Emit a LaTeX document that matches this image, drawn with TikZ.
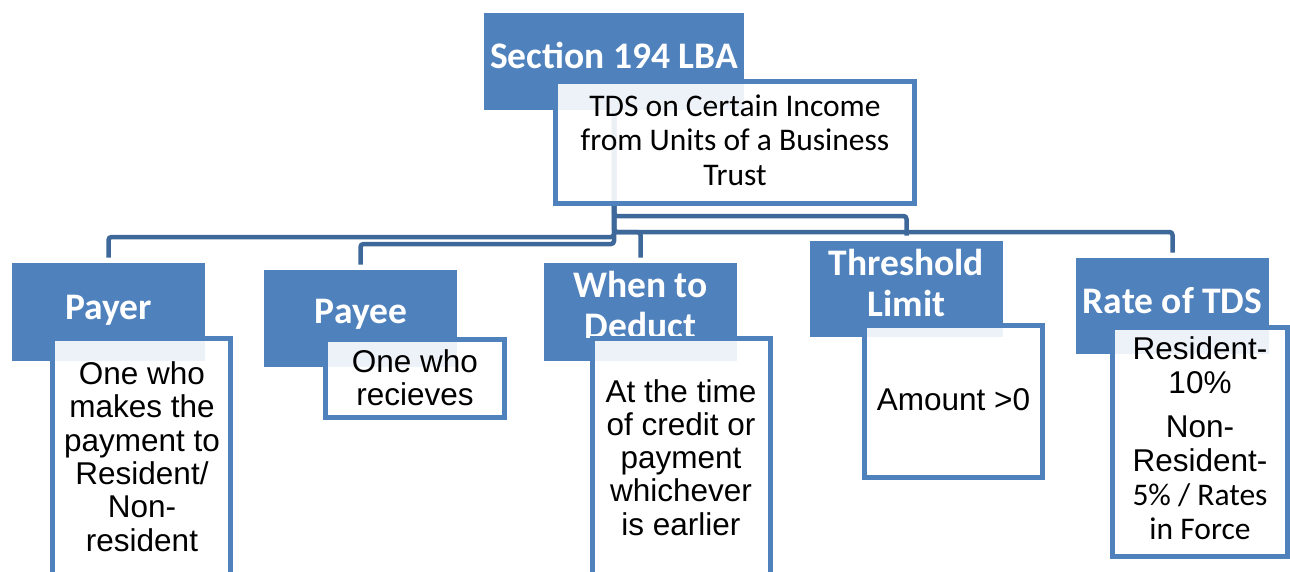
\documentclass[tikz,border=0pt]{standalone}
\usepackage{fontspec}
\setmainfont{Liberation Sans}
\newfontfamily\calib{Carlito}

\definecolor{accent}{RGB}{79,129,189}
\definecolor{linkblue}{RGB}{61,104,153}

\tikzset{
  headbox/.style={fill=accent, draw=none, inner sep=0pt, outer sep=0pt,
    minimum width=193pt, minimum height=97pt},
  notebox/.style={draw=accent, line width=5pt, fill=white, fill opacity=0.9,
    inner sep=0pt, outer sep=0pt},
  headtext/.style={anchor=north, inner sep=0pt, text=white, align=center,
    font=\calib\bfseries\fontsize{37.5}{41}\selectfont, execute at begin node=\strut},
  bodytext/.style={anchor=north, inner sep=0pt, text=black, align=center,
    font=\fontsize{31.5}{33.3}\selectfont, execute at begin node=\strut},
  conn/.style={draw=linkblue, line width=4.5pt, rounded corners=3pt, shorten >=5.5pt},
}

\begin{document}
\begin{tikzpicture}[x=1pt,y=-1pt]
\useasboundingbox (0,0) rectangle (1290,571);
\clip (0,0) rectangle (1290,571);

% heading boxes
\node[headbox, minimum width=260pt] (sec) at (614,61.5) {};
\node[headbox, minimum height=98pt] (payer) at (108.5,312) {};
\node[headbox] (payee) at (360.5,318.5) {};
\node[headbox, minimum height=98pt] (when) at (640.5,312) {};
\node[headbox, minimum height=96pt] (thr) at (906.5,289) {};
\node[headbox, minimum height=96pt] (rate) at (1172.5,306) {};

\node[headtext] (secT) at (614,39.5) {Section 194 LBA};
\node[headtext] (payerT) at (108.5,291) {Payer};
\node[headtext] (payeeT) at (361,294.5) {Payee};
\node[headtext] (whenT) at (640.5,270.5) {When to\\Deduct};
\node[headtext] (thrT) at (906.5,248.5) {Threshold\\Limit};
\node[headtext] (rateT) at (1172.5,284.5) {Rate of TDS};

% horizontal bus levels of the tree
\coordinate (busPayer) at (0,237);
\coordinate (busPayee) at (0,244);
\coordinate (busWhen) at (0,232);
\coordinate (busThr) at (0,216);
\coordinate (busRate) at (0,232);

\draw[conn] (sec.south) -- (sec.south |- busThr) -| (thr.north);
\draw[conn] (sec.south) -- (sec.south |- busRate) -| (rate.north);
\draw[conn] (sec.south) -- (sec.south |- busWhen) -| (when.north);
\draw[conn] (sec.south) -- (sec.south |- busPayer) -| (payer.north);
\draw[conn] (sec.south) -- (sec.south |- busPayee) -| (payee.north);

% description boxes
\node[notebox, minimum width=359pt, minimum height=122pt] (tds) at (735,142.5) {};
\node[notebox, minimum width=178pt, minimum height=259pt] (payerW) at (141.5,468) {};
\node[notebox, minimum width=179pt, minimum height=78pt] (payeeW) at (415,378.5) {};
\node[notebox, minimum width=178pt, minimum height=259pt] (whenW) at (681.5,468) {};
\node[notebox, minimum width=178pt, minimum height=152pt] (thrW) at (953.5,401.5) {};
\node[notebox, minimum width=175pt, minimum height=229pt] (rateW) at (1200,442) {};

\node[bodytext, font=\calib\fontsize{31.5}{34.5}\selectfont] (tdsT) at (735,94.5)
  {TDS on Certain Income\\from Units of a Business\\Trust};
\node[bodytext] (payerWT) at (142,361.5)
  {One who\\makes the\\payment to\\Resident/\\Non-\\resident};
\node[bodytext] (payeeWT) at (415,349) {One who\\recieves};
\node[bodytext] (whenWT) at (681,379)
  {At the time\\of credit or\\payment\\whichever\\is earlier};
\node[bodytext] (thrWT) at (953.5,387) {Amount >0};
\node[bodytext, font=\fontsize{31.5}{34}\selectfont] (rateWT) at (1200,336)
  {Resident-\\10\%\\[10pt]Non-\\Resident-\\{\calib 5\% / Rates}\\{\calib in Force}};
\end{tikzpicture}
\end{document}
